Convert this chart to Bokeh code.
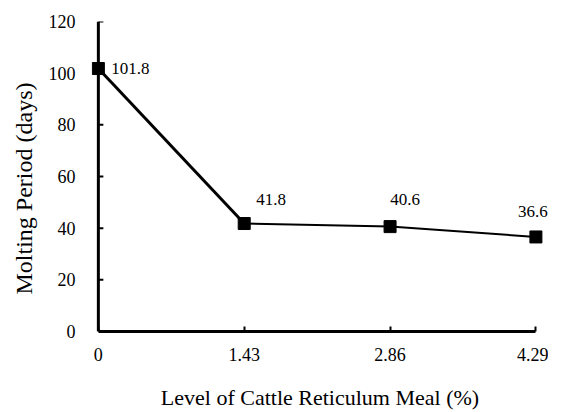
from bokeh.plotting import figure
from bokeh.models import Range1d, ColumnDataSource, FixedTicker, Span, Label, Title
from bokeh.embed import file_html
from bokeh.resources import INLINE

levels = [0, 1.43, 2.86, 4.29]
molting_days = [101.8, 41.8, 40.6, 36.6]
tick_labels = ["0", "1.43", "2.86", "4.29"]
y_ticks = [0, 20, 40, 60, 80, 100, 120]
label_texts = ["101.8", "41.8", "40.6", "36.6"]
label_dx = [32, 27, 15, -3]
label_dy = [0, 24, 27, 25]

FONT = "Liberation Serif"

p = figure(width=548, height=412, output_backend="svg", toolbar_location=None,
           min_border_left=82, min_border_right=0, min_border_top=21, min_border_bottom=80,
           x_range=Range1d(-0.0673, 4.4134), y_range=Range1d(0, 120))
p.outline_line_color = None
p.grid.visible = False
p.background_fill_color = "white"
p.border_fill_color = "white"

src = ColumnDataSource(dict(x=levels, y=molting_days))
first = ColumnDataSource(dict(x=levels[:2], y=molting_days[:2]))
rest = ColumnDataSource(dict(x=levels[1:], y=molting_days[1:]))
yt = ColumnDataSource(dict(x=[levels[0]] * len(y_ticks), y=y_ticks))

# y axis line at x = 0 and inward ticks
p.add_layout(Span(location=levels[0], dimension="height", line_color="black", line_width=3))
p.ray("x", "y", source=yt, length=5, length_units="screen", angle=0,
      line_color="black", line_width=2)

p.line("x", "y", source=first, line_width=3, line_color="black")
p.line("x", "y", source=rest, line_width=2, line_color="black")
p.scatter("x", "y", source=src, marker="square", size=12, fill_color="black", line_color="black")

for xv, yv, t, dx, dy in zip(levels, molting_days, label_texts, label_dx, label_dy):
    p.add_layout(Label(x=xv, y=yv, text=t, x_offset=dx, y_offset=dy,
                       text_font=FONT, text_font_size="17px", text_font_style="normal",
                       text_align="center", text_baseline="middle", text_color="black"))

xa = p.xaxis[0]
xa.ticker = FixedTicker(ticks=levels)
xa.major_label_overrides = {lv: lab for lv, lab in zip(levels, tick_labels)}
xa.bounds = (0, 4.29)
xa.axis_label = "Level of Cattle Reticulum Meal (%)"
xa.axis_line_width = 3
xa.axis_line_color = "black"
xa.major_tick_line_width = 2
xa.major_tick_line_color = "black"
xa.major_tick_in = 5
xa.major_tick_out = 0

ya = p.yaxis[0]
ya.ticker = FixedTicker(ticks=y_ticks)
ya.axis_line_color = None
ya.major_tick_line_color = None

for ax in (xa, ya):
    ax.minor_tick_line_color = None
    ax.major_label_text_font = FONT
    ax.major_label_text_font_size = "18px"
    ax.major_label_text_color = "black"

xa.axis_label_text_font = FONT
xa.axis_label_text_font_size = "22px"
xa.axis_label_text_font_style = "normal"
xa.axis_label_text_color = "black"
xa.major_label_standoff = 16
xa.axis_label_standoff = 21
ya.major_label_standoff = 10

ytitle = Title(text="Molting Period (days)", align="left", offset=37, standoff=17,
               text_font=FONT, text_font_size="24px", text_font_style="normal",
               text_color="black")
p.add_layout(ytitle, "left")

open("out.html", "w").write(file_html(p, INLINE))
